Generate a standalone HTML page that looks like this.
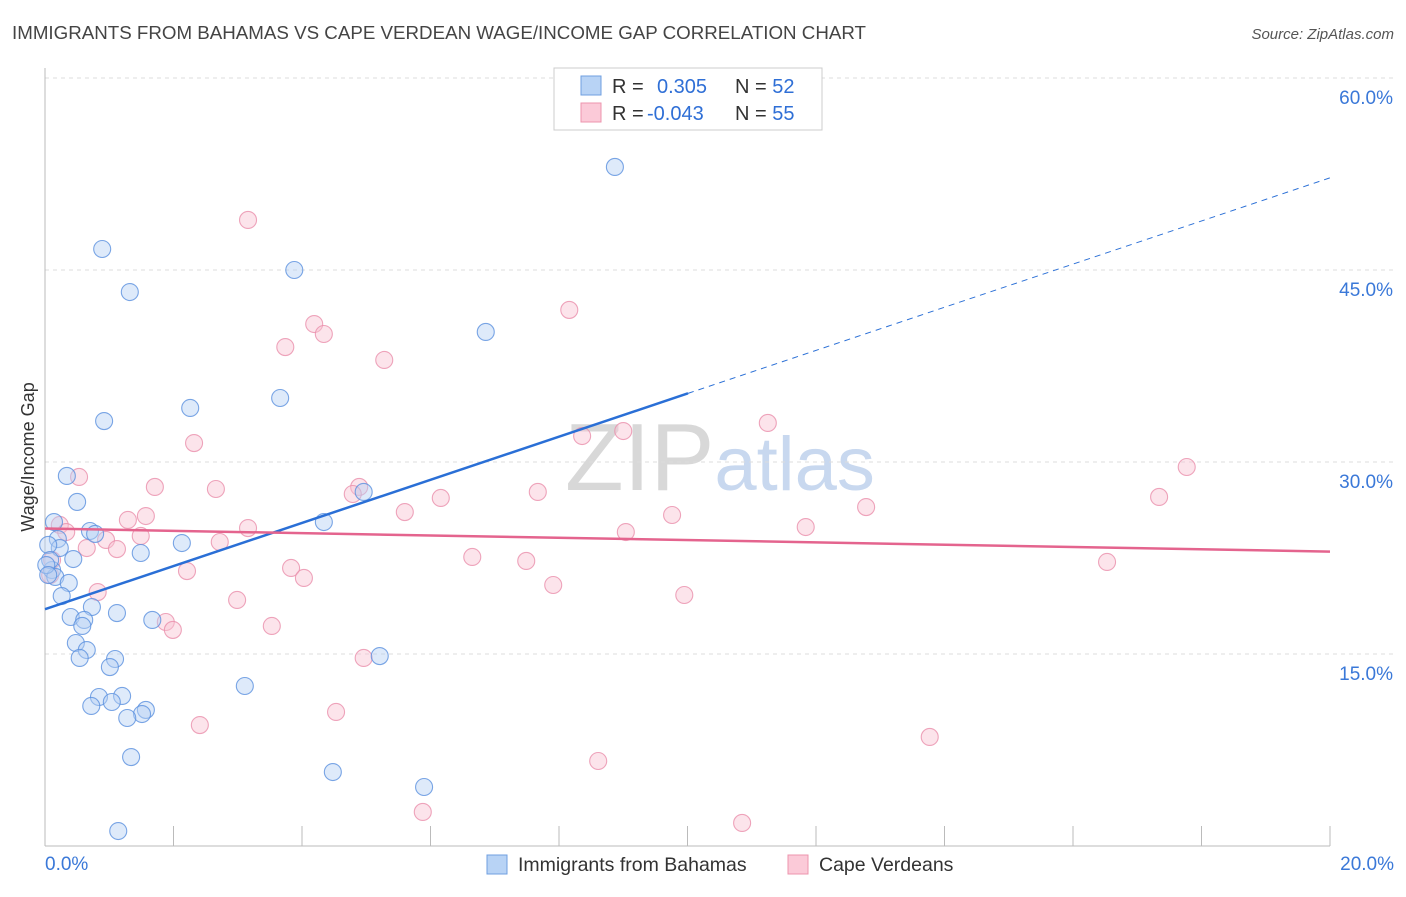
<!DOCTYPE html>
<html><head><meta charset="utf-8"><style>
body{margin:0;background:#fff;font-family:"Liberation Sans",sans-serif}
svg text{font-family:"Liberation Sans",sans-serif}
</style></head><body>
<svg id="chart" width="1406" height="892" xmlns="http://www.w3.org/2000/svg">
<text x="12" y="39" font-size="18" fill="#444" textLength="854" lengthAdjust="spacingAndGlyphs">IMMIGRANTS FROM BAHAMAS VS CAPE VERDEAN WAGE/INCOME GAP CORRELATION CHART</text>
<text x="1394" y="39" font-size="15" fill="#555" text-anchor="end" font-style="italic">Source: ZipAtlas.com</text>
<text x="720" y="490" font-size="96" text-anchor="middle" fill="#ddd" font-family="Liberation Serif"><tspan fill="#d8d8d8">ZIP</tspan><tspan fill="#c8d8ef" font-family="Liberation Sans" font-size="76">atlas</tspan></text>
<g id="grid"></g>
<g id="axes"></g>
<g id="marks"></g>
<text transform="translate(34,457) rotate(-90)" font-size="18" fill="#333" text-anchor="middle">Wage/Income Gap</text>
<g>
<rect x="554" y="68" width="268" height="62" fill="#fff" stroke="#ccc"/>
<rect x="581" y="76" width="20" height="19" fill="#b8d3f5" stroke="#6f9fe0"/>
<rect x="581" y="103" width="20" height="19" fill="#fbcad8" stroke="#ec94ae"/>
<text x="612" y="93" font-size="20" fill="#333">R = <tspan x="657" fill="#2f6fd6">0.305</tspan><tspan x="735">N = </tspan><tspan fill="#2f6fd6">52</tspan></text>
<text x="612" y="120" font-size="20" fill="#333">R = <tspan x="647" fill="#2f6fd6">-0.043</tspan><tspan x="735">N = </tspan><tspan fill="#2f6fd6">55</tspan></text>
</g>
<g>
<rect x="487" y="855" width="20" height="19" fill="#b8d3f5" stroke="#6f9fe0"/>
<text x="518" y="871" font-size="19.5" fill="#333">Immigrants from Bahamas</text>
<rect x="788" y="855" width="20" height="19" fill="#fbcad8" stroke="#ec94ae"/>
<text x="819" y="871" font-size="19.5" fill="#333">Cape Verdeans</text>
</g>
</svg>
<script>
const yTicks=[15,30,45,60];
const yTickLabels=["15.0%","30.0%","45.0%","60.0%"];
const xTickCount=10;
const bahamasX=[];const bahamasY=[];
const capeX=[];const capeY=[];
const bahamasPx=[[615,167],[102,249],[294,270],[130,292],[486,332],[280,398],[190,408],[104,421],[67,476],[77,502],[54,522],[90,531],[95,534],[58,539],[60,548],[73,559],[141,553],[182,543],[324,522],[364,492],[52,570],[55,577],[69,583],[62,596],[92,607],[71,617],[84,620],[117,613],[152,620],[82,626],[76,643],[87,650],[80,658],[115,659],[110,667],[380,656],[245,686],[99,697],[122,696],[91,706],[112,702],[146,710],[142,714],[127,718],[131,757],[333,772],[424,787],[118,831],[48,545],[50,560],[46,565],[48,575]];
const capePx=[[248,220],[314,324],[324,334],[569,310],[285,347],[384,360],[194,443],[582,436],[623,431],[768,423],[1187,467],[79,477],[155,487],[216,489],[359,487],[353,494],[441,498],[538,492],[1159,497],[672,515],[405,512],[866,507],[128,520],[146,516],[60,525],[66,532],[248,528],[106,540],[87,548],[117,549],[141,536],[220,542],[626,532],[806,527],[472,557],[526,561],[1107,562],[291,568],[187,571],[304,578],[553,585],[98,592],[684,595],[237,600],[166,622],[173,630],[272,626],[364,658],[52,560],[50,575],[336,712],[200,725],[930,737],[598,761],[423,812],[742,823]];
for(const p of bahamasPx){bahamasX.push(+((p[0]-45)/1285*20).toFixed(2));bahamasY.push(+((846-p[1])*0.078125).toFixed(2));}
for(const p of capePx){capeX.push(+((p[0]-45)/1285*20).toFixed(2));capeY.push(+((846-p[1])*0.078125).toFixed(2));}
const bahamasTrend=[18.5,52.2];
const capeTrend=[24.8,23.0];
const NS="http://www.w3.org/2000/svg";
const X=v=>45+v/20*1285, Y=v=>846-v/15*192;
function mk(t,a,p){const e=document.createElementNS(NS,t);for(const k in a)e.setAttribute(k,a[k]);p.appendChild(e);return e;}
const grid=document.getElementById('grid'),axes=document.getElementById('axes'),marks=document.getElementById('marks');
yTicks.forEach((t,i)=>{
 const l=mk('line',{x1:45,x2:1394,y1:Y(t),y2:Y(t),stroke:'#ddd','stroke-dasharray':'4,4'},grid);
 
 
 const tx=mk('text',{x:1393,y:Y(t)+26,'font-size':19,fill:'#3a78d8','text-anchor':'end'},axes);tx.textContent=yTickLabels[i];
 
 
});
const ya=mk('line',{x1:45,x2:45,y1:68,y2:846,stroke:'#bbb'},axes);


const xa=mk('line',{x1:45,x2:1330,y1:846,y2:846,stroke:'#bbb'},axes);


for(let i=1;i<=xTickCount;i++){const tk=mk('line',{x1:X(i*2),x2:X(i*2),y1:826,y2:846,stroke:'#bbb'},axes);
 
 }
let t0=mk('text',{x:45,y:870,'font-size':19,fill:'#3a78d8'},axes);t0.textContent='0.0%';


let t1=mk('text',{x:1394,y:870,'font-size':19,fill:'#3a78d8','text-anchor':'end'},axes);t1.textContent='20.0%';


function pts(xs,ys,fill,stroke,name){xs.forEach((x,i)=>{const c=mk('circle',{cx:X(x),cy:Y(ys[i]),r:8.5,fill:fill,'fill-opacity':0.45,stroke:stroke,'stroke-opacity':0.8,'stroke-width':1.1},marks);
 
 });}
pts(capeX,capeY,'#f9c4d3','#ea8fab','cape-verdean-point');
pts(bahamasX,bahamasY,'#b6d1f3','#5a90df','bahamas-point');
const xm=(688-45)/1285*20;
const b1=mk('line',{x1:X(0),y1:Y(bahamasTrend[0]),x2:X(xm),y2:Y(bahamasTrend[0]+(bahamasTrend[1]-bahamasTrend[0])*xm/20),stroke:'#2a6fd6','stroke-width':2.5},marks);


const b2=mk('line',{x1:X(xm),y1:Y(bahamasTrend[0]+(bahamasTrend[1]-bahamasTrend[0])*xm/20),x2:X(20),y2:Y(bahamasTrend[1]),stroke:'#2a6fd6','stroke-width':1,'stroke-dasharray':'6,5'},marks);


const c1=mk('line',{x1:X(0),y1:Y(capeTrend[0]),x2:X(20),y2:Y(capeTrend[1]),stroke:'#e4648e','stroke-width':2.5},marks);


</script>
</body></html>
